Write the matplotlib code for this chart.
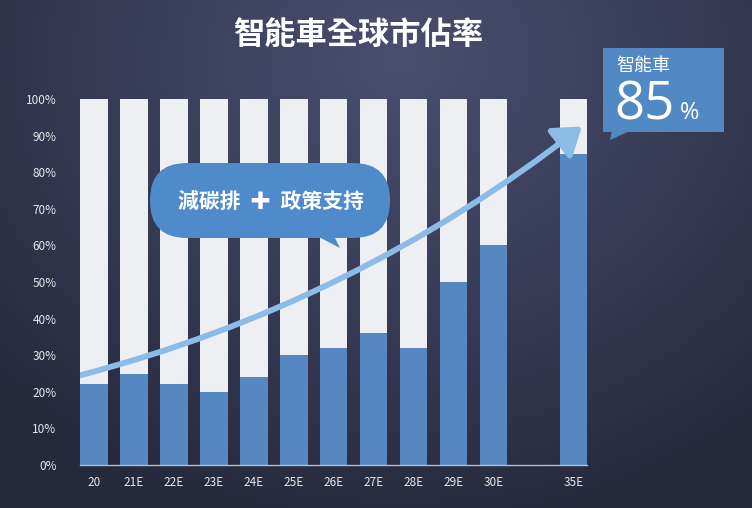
import numpy as np
import matplotlib
matplotlib.use("Agg")
import matplotlib.pyplot as plt
from matplotlib.patches import FancyBboxPatch, Polygon, FancyArrowPatch, Rectangle
from matplotlib.path import Path

plt.rcParams['font.family'] = ['Noto Sans CJK TC', 'DejaVu Sans']

# data
labels = ["20", "21E", "22E", "23E", "24E", "25E", "26E", "27E", "28E", "29E", "30E", "35E"]
positions = [0, 1, 2, 3, 4, 5, 6, 7, 8, 9, 10, 12]
share = [22, 25, 22, 20, 24, 30, 32, 36, 32, 50, 60, 85]
total = [100] * len(share)

W, H = 752, 508
fig = plt.figure(figsize=(W / 100, H / 100), dpi=100)

# background gradient
bg = fig.add_axes([0, 0, 1, 1])
yy, xx = np.mgrid[0:H, 0:W]
d = np.sqrt(((xx - 400) / 560.0) ** 2 + ((yy - 60) / 480.0) ** 2)
t = np.clip(d, 0, 1)
top = np.array([0x4a, 0x4f, 0x70]) / 255
bot = np.array([0x26, 0x29, 0x3c]) / 255
img = top[None, None, :] * (1 - t[..., None]) + bot[None, None, :] * t[..., None]
bg.imshow(img, extent=[0, W, H, 0], aspect="auto")
bg.set_xlim(0, W)
bg.set_ylim(H, 0)
bg.axis("off")

# main chart
ax = fig.add_axes([80 / W, 43 / H, 507 / W, 366 / H])
ax.patch.set_alpha(0)
ax.bar(positions, total, width=0.68, color="#eeeff3", zorder=2)
ax.bar(positions, share, width=0.68, color="#5588c2", zorder=3)
ax.set_xlim(-0.35, 12.33)
ax.set_ylim(0, 100)
ax.set_yticks(range(0, 101, 10))
ax.set_yticklabels([f"{v}%" for v in range(0, 101, 10)])
ax.set_xticks(positions)
ax.set_xticklabels(labels)
ax.tick_params(colors="#e6e7ee", labelsize=8.5, length=0, pad=8)
ax.tick_params(axis="y", pad=17)
for s in ["top", "right", "left"]:
    ax.spines[s].set_visible(False)
ax.spines["bottom"].set_color("#b8bccb")
ax.spines["bottom"].set_linewidth(1)
ax.spines["bottom"].set_zorder(4)

# growth arrow
verts = [(-0.35, 24.5), (6.5, 44), (12.2, 92.5)]
curve = Path(verts, [Path.MOVETO, Path.CURVE3, Path.CURVE3])
arrow = FancyArrowPatch(path=curve, arrowstyle="-|>,head_length=10,head_width=7",
                        color="#8dbbe8", lw=4.2, zorder=5, mutation_scale=1.6)
ax.add_patch(arrow)

# overlay in pixel coords
ov = fig.add_axes([0, 0, 1, 1])
ov.set_xlim(0, W)
ov.set_ylim(H, 0)
ov.axis("off")
ov.patch.set_alpha(0)

ov.text(358, 36, "智能車全球市佔率", color="white", fontsize=22.5, fontweight="bold",
        ha="center", va="center")

# speech bubble
bub = FancyBboxPatch((150, 163), 240, 75, boxstyle="round,pad=0,rounding_size=37",
                     fc="#4f8bca", ec="none", zorder=6)
ov.add_patch(bub)
ov.add_patch(Polygon([(315, 235), (340, 248), (332, 232)], closed=True,
                     fc="#4f8bca", ec="none", zorder=6))
ov.text(271, 201, "減碳排  ✚  政策支持", color="white", fontsize=15, fontweight="bold",
        ha="center", va="center", zorder=7)

# callout box
ov.add_patch(Rectangle((603, 48), 121, 84, fc="#5189c5", ec="none", zorder=6))
ov.add_patch(Polygon([(612, 130), (610, 140), (632, 130)], closed=True,
                     fc="#5189c5", ec="none", zorder=6))
ov.text(616, 66, "智能車", color="white", fontsize=13, ha="left", va="center", zorder=7)
ov.text(614, 119, "85", color="white", fontsize=38, ha="left", va="baseline", zorder=7,
        family="Open Sans")
ov.text(680, 119, "%", color="white", fontsize=17, ha="left", va="baseline", zorder=7,
        family="Open Sans")

fig.savefig("out.png", dpi=100)
